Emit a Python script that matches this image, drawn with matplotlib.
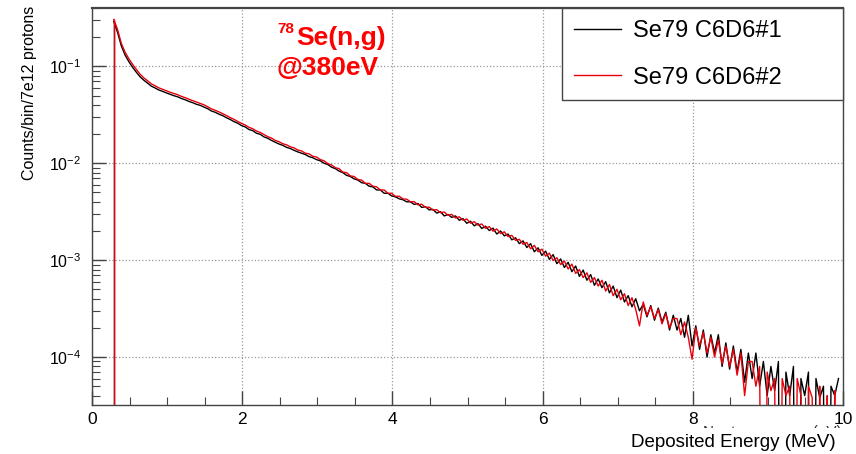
import numpy as np
import matplotlib
matplotlib.use("Agg")
import matplotlib.pyplot as plt
from matplotlib.lines import Line2D
from matplotlib.ticker import LogLocator, MultipleLocator, NullFormatter

plt.rcParams['font.family'] = ['Liberation Sans', 'DejaVu Sans']
plt.rcParams['mathtext.fontset'] = 'custom'
plt.rcParams['mathtext.rm'] = 'Liberation Sans'
plt.rcParams['mathtext.it'] = 'Liberation Sans:italic'
plt.rcParams['mathtext.bf'] = 'Liberation Sans:bold'

e_first = 0.29
bin_width = 0.05

se79_det1 = [
    0.290, 0.225, 0.163, 0.131, 0.112, 0.098, 0.087, 0.078, 0.072, 0.067,
    0.0625, 0.0598, 0.0570, 0.0552, 0.0532, 0.0515, 0.0498, 0.0485, 0.0466, 0.0452,
    0.0435, 0.0422, 0.0406, 0.0396, 0.0380, 0.0366, 0.0346, 0.0336, 0.0321, 0.0310,
    0.0295, 0.0283, 0.0269, 0.0259, 0.0245, 0.0237, 0.0223, 0.0217, 0.0204, 0.0199,
    0.0187, 0.0181, 0.0172, 0.0165, 0.0158, 0.0153, 0.0146, 0.0142, 0.0136, 0.0131,
    0.0127, 0.0123, 0.0117, 0.0114, 0.0109, 0.0106, 0.0100, 0.0097, 0.0091, 0.0088,
    0.0083, 0.0080, 0.0075, 0.0073, 0.0069, 0.0067, 0.0063, 0.0062, 0.0058, 0.0057,
    0.0053, 0.0053, 0.0049, 0.0049, 0.0046, 0.0045, 0.0043, 0.0042, 0.0040, 0.0040,
    0.00376, 0.00384, 0.00350, 0.00356, 0.00330, 0.00334, 0.00306, 0.00316, 0.00286, 0.00296,
    0.00276, 0.00286, 0.00258, 0.00268, 0.00240, 0.00252, 0.00226, 0.00238, 0.00212, 0.00224,
    0.00202, 0.00214, 0.00186, 0.00200, 0.00178, 0.00186, 0.00162, 0.00170, 0.00148, 0.00158,
    0.00135, 0.00148, 0.00122, 0.00134, 0.00112, 0.00124, 0.00102, 0.00114, 0.00092, 0.00103,
    0.00084, 0.00095, 0.00076, 0.00087, 0.00068, 0.00079, 0.00062, 0.00071, 0.00055, 0.00064,
    0.00052, 0.00060, 0.00046, 0.00054, 0.00041, 0.00049, 0.00037, 0.00043, 0.00033, 0.00040,
    0.00030, 0.00035, 0.00026, 0.00034, 0.00024, 0.00032, 0.00023, 0.00029, 0.00019, 0.00027,
    0.00019, 0.00025, 0.00016, 0.00027, 0.00013, 0.00021, 0.00012, 0.00019, 0.00010, 0.00017,
    0.00011, 0.00017, 0.00008, 0.00014, 0.000075, 0.00013, 0.00007, 0.00012, 0.000055, 0.00011,
    0.00006, 0.00011, 0.00005, 0.00009, 0.00004, 0.00008, 0.000045, 0.00009, 0, 0.00007,
    0.00004, 0.00008, 0, 0.00006, 0.00004, 0.00007, 0, 0.00006, 0.000038, 0.00005,
    0, 0.00005, 0.00004, 0.00006,
]

se79_det2 = [
    0.305, 0.240, 0.173, 0.140, 0.120, 0.105, 0.093, 0.083, 0.076, 0.071,
    0.066, 0.063, 0.060, 0.058, 0.056, 0.054, 0.0525, 0.051, 0.049, 0.0475,
    0.0458, 0.0443, 0.0428, 0.0415, 0.0401, 0.0383, 0.0364, 0.0352, 0.0339, 0.0325,
    0.0311, 0.0296, 0.0284, 0.0270, 0.0258, 0.0248, 0.0235, 0.0227, 0.0215, 0.0208,
    0.0198, 0.0188, 0.0182, 0.0172, 0.0167, 0.0159, 0.0155, 0.0148, 0.0144, 0.0137,
    0.0134, 0.0127, 0.0125, 0.0118, 0.0116, 0.0109, 0.0106, 0.0099, 0.0096, 0.0090,
    0.0088, 0.0081, 0.0080, 0.0074, 0.0073, 0.0068, 0.0067, 0.0062, 0.0062, 0.0058,
    0.0057, 0.0053, 0.0053, 0.0049, 0.0049, 0.00455, 0.00457, 0.00428, 0.00426, 0.00400,
    0.00402, 0.00372, 0.00378, 0.00350, 0.00352, 0.00328, 0.00332, 0.00309, 0.00314, 0.00290,
    0.00297, 0.00272, 0.00280, 0.00258, 0.00266, 0.00241, 0.00249, 0.00230, 0.00236, 0.00213,
    0.00222, 0.00199, 0.00210, 0.00188, 0.00196, 0.00175, 0.00180, 0.00160, 0.00164, 0.00146,
    0.00152, 0.00131, 0.00142, 0.00122, 0.00130, 0.00110, 0.00118, 0.00099, 0.00106, 0.00090,
    0.00098, 0.00081, 0.00091, 0.00073, 0.00080, 0.00066, 0.00074, 0.00059, 0.00066, 0.00054,
    0.00062, 0.00048, 0.00056, 0.00043, 0.00050, 0.00039, 0.00045, 0.00034, 0.00041, 0.00031,
    0.00021, 0.00037, 0.00027, 0.00033, 0.00025, 0.00031, 0.00022, 0.00028, 0.00020, 0.00025,
    0.00025, 0.00017, 0.00023, 0.00016, 0.000095, 0.00020, 0.00013, 0.00018, 0.00011, 0.00016,
    0.00010, 0.00015, 0.000085, 0.00013, 0.00008, 0.00012, 0.000065, 0.00011, 0.00004, 0.00009,
    0.00009, 0.00005, 0.00008, 0, 0.00007, 0.000045, 0.00006, 0, 0.00006, 0.00004,
    0.00005, 0, 0.00006, 0.00004, 0, 0.00005, 0.000038, 0, 0.00005, 0,
    0.00004, 0, 0.000045, 0,
]

labels = ['Se79 C6D6#1', 'Se79 C6D6#2']
colors = ['black', '#e8000b']

det1 = np.array(se79_det1)
det2 = np.array(se79_det2)
energy = e_first + bin_width * np.arange(len(det1))

fig = plt.figure(figsize=(8.56, 4.54), dpi=100)
ax = fig.add_axes([92 / 856, 1 - 405 / 454, 751 / 856, 397 / 454])

floor = 1e-9
for vals, col in zip([det1, det2], colors):
    y = np.where(vals > 0, vals, floor)
    ax.plot(energy, y, color=col, lw=1.0)
    ax.vlines(energy[0], floor, y[0], color=col, lw=1.0)

ax.set_yscale('log')
ax.set_xlim(0, 10)
ax.set_ylim(3.2e-5, 0.4)

ax.xaxis.set_major_locator(MultipleLocator(2))
ax.xaxis.set_minor_locator(MultipleLocator(0.5))
ax.yaxis.set_major_locator(LogLocator(base=10))
ax.yaxis.set_minor_locator(LogLocator(base=10, subs=np.arange(2, 10)))
ax.yaxis.set_minor_formatter(NullFormatter())

ax.tick_params(which='both', direction='in', top=False, right=False, color='#444')
ax.tick_params(which='major', length=10, width=1)
ax.tick_params(which='minor', length=6, width=0.8)
ax.tick_params(axis='x', labelsize=12.5, pad=5)
ax.tick_params(axis='y', labelsize=11.5, pad=8)
for sp in ax.spines.values():
    sp.set_color('#444')
    sp.set_linewidth(1.0)
ax.spines['top'].set_linewidth(1.6)

ax.grid(True, which='major', ls=':', color='#999999', lw=0.9)

handles = [Line2D([], [], color=c, lw=1) for c in colors]
leg = ax.legend(handles, labels, loc='upper left',
                bbox_to_anchor=((562 - 92) / 751, 0, 281 / 751, 1),
                mode='expand', borderaxespad=0, fontsize=17,
                fancybox=False, edgecolor='#444', framealpha=1,
                handlelength=2.0, handletextpad=0.5, borderpad=0.5,
                labelspacing=1.05)
leg.get_frame().set_linewidth(1.0)

# original axis title, mostly covered by the overlay label
fig.text(842 / 856, 1 - 425 / 454, 'Neutron energy (eV)', ha='right', va='top',
         fontsize=11, color='#333')
fig.text(836 / 856, 1 - 447 / 454, 'Deposited Energy (MeV)', ha='right',
         va='baseline', fontsize=13.5,
         bbox=dict(facecolor='white', edgecolor='none', pad=4))

fig.text(30 / 856, 1 - 6 / 454, 'Counts/bin/7e12 protons', rotation=90,
         ha='center', va='top', fontsize=11.5)

red = '#ff0000'
fig.text(277 / 856, 1 - 33 / 454, '78', fontsize=11, fontweight='bold',
         color=red, va='baseline')
fig.text(296 / 856, 1 - 45 / 454, 'Se(n,g)', fontsize=19, fontweight='bold',
         color=red, va='baseline')
fig.text(277 / 856, 1 - 75 / 454, '@380eV', fontsize=19, fontweight='bold',
         color=red, va='baseline')

fig.savefig('out.png', dpi=100)
